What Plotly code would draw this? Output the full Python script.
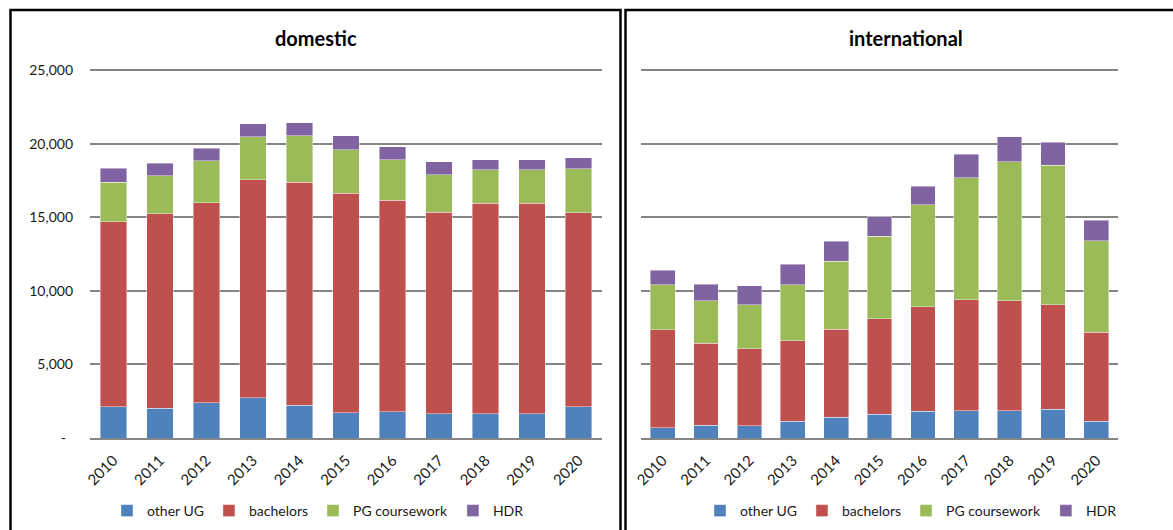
import plotly.graph_objects as go

W, H = 1173, 530

years = ["2010", "2011", "2012", "2013", "2014", "2015", "2016", "2017", "2018", "2019", "2020"]
series_names = ["other UG", "bachelors", "PG coursework", "HDR"]
colors = ["#4F81BD", "#C0504D", "#9BBB59", "#8064A2"]

# Domestic (stack components)
dom_other_ug = [2130, 2020, 2380, 2720, 2220, 1700, 1770, 1650, 1650, 1650, 2110]
dom_bachelors = [12570, 13200, 13610, 14810, 15150, 14920, 14380, 13700, 14290, 14290, 13200]
dom_pg_course = [2670, 2600, 2830, 2920, 3150, 2950, 2740, 2520, 2270, 2270, 2990]
dom_hdr = [950, 840, 860, 900, 880, 950, 880, 900, 680, 680, 740]

# International (stack components)
int_other_ug = [700, 880, 840, 1150, 1400, 1610, 1810, 1860, 1860, 1970, 1150]
int_bachelors = [6640, 5550, 5230, 5460, 6000, 6500, 7110, 7520, 7450, 7090, 6030]
int_pg_course = [3070, 2900, 2990, 3800, 4600, 5610, 6910, 8300, 9460, 9460, 6220]
int_hdr = [1000, 1110, 1270, 1390, 1360, 1320, 1270, 1610, 1700, 1570, 1390]

y_ticks = [0, 5000, 10000, 15000, 20000, 25000]
y_ticktext = ["-\u00a0\u00a0", "5,000", "10,000", "15,000", "20,000", "25,000"]
Y_MAX = 25150

FONT = "Lato, Carlito, 'Liberation Sans', sans-serif"

def px_x(p):
    return p / W

def px_y(p):
    return (H - p) / H

# pixel rows of value 0 and 25,000 in the reference
Y0_PX, Y25_PX = 438.0, 70.0
top_px = Y0_PX - (Y0_PX - Y25_PX) * Y_MAX / 25000

fig = go.Figure()

dom = [dom_other_ug, dom_bachelors, dom_pg_course, dom_hdr]
intl = [int_other_ug, int_bachelors, int_pg_course, int_hdr]

for name, col, vals in zip(series_names, colors, dom):
    fig.add_trace(go.Bar(x=years, y=vals, name=name, marker=dict(color=col, line=dict(width=0.6, color="rgba(255,255,255,0.7)")),
                         xaxis="x", yaxis="y", legend="legend"))
for name, col, vals in zip(series_names, colors, intl):
    fig.add_trace(go.Bar(x=years, y=vals, name=name, marker=dict(color=col, line=dict(width=0.6, color="rgba(255,255,255,0.7)")),
                         xaxis="x2", yaxis="y2", legend="legend2"))

grid_col = "#858585"
common_x = dict(type="category", tickangle=-45, showgrid=False, showline=True, linecolor=grid_col, linewidth=1.6,
                ticks="", tickfont=dict(family=FONT, size=15, color="#1a1a1a"), ticklabelstandoff=6, automargin=False)
common_y = dict(range=[0, Y_MAX], tickvals=y_ticks, showgrid=True, gridcolor=grid_col, gridwidth=1.6,
                zeroline=False, showline=False, ticks="", tickfont=dict(family=FONT, size=14, color="#1a1a1a"),
                automargin=False)

leg_common = dict(orientation="h", xanchor="center", yanchor="middle", traceorder="normal",
                  font=dict(family=FONT, size=14, color="#1a1a1a"), itemwidth=30, bgcolor="rgba(0,0,0,0)")

fig.update_layout(
    width=W, height=H, autosize=False,
    margin=dict(l=0, r=0, t=0, b=0, pad=0, autoexpand=False),
    paper_bgcolor="white", plot_bgcolor="white",
    barmode="stack", bargap=0.43,
    font=dict(family=FONT, size=14, color="#1a1a1a"),
    xaxis=dict(domain=[px_x(90), px_x(602)], anchor="y", **common_x),
    yaxis=dict(domain=[px_y(Y0_PX), px_y(top_px)], anchor="x", ticktext=y_ticktext, ticklabelstandoff=16, **common_y),
    xaxis2=dict(domain=[px_x(641), px_x(1118)], anchor="y2", **common_x),
    yaxis2=dict(domain=[px_y(Y0_PX), px_y(top_px)], anchor="x2", showticklabels=False, **common_y),
    legend=dict(x=px_x(318), y=px_y(511), **leg_common),
    legend2=dict(x=px_x(911), y=px_y(511), **leg_common),
    annotations=[
        dict(text="<b>domestic</b>", x=px_x(316), y=px_y(38), xref="paper", yref="paper", showarrow=False,
             xanchor="center", yanchor="middle", font=dict(family=FONT, size=20, color="#000")),
        dict(text="<b>international</b>", x=px_x(906), y=px_y(38), xref="paper", yref="paper", showarrow=False,
             xanchor="center", yanchor="middle", font=dict(family=FONT, size=20, color="#000")),
    ],
    shapes=[
        dict(type="rect", xref="paper", yref="paper", x0=px_x(10.5), x1=px_x(620.5), y0=px_y(545), y1=px_y(10),
             line=dict(color="#000", width=2.5), fillcolor="rgba(0,0,0,0)", layer="above"),
        dict(type="rect", xref="paper", yref="paper", x0=px_x(625.5), x1=px_x(1190), y0=px_y(545), y1=px_y(10),
             line=dict(color="#000", width=2.5), fillcolor="rgba(0,0,0,0)", layer="above"),
    ],
)

fig.write_html("out.html")
